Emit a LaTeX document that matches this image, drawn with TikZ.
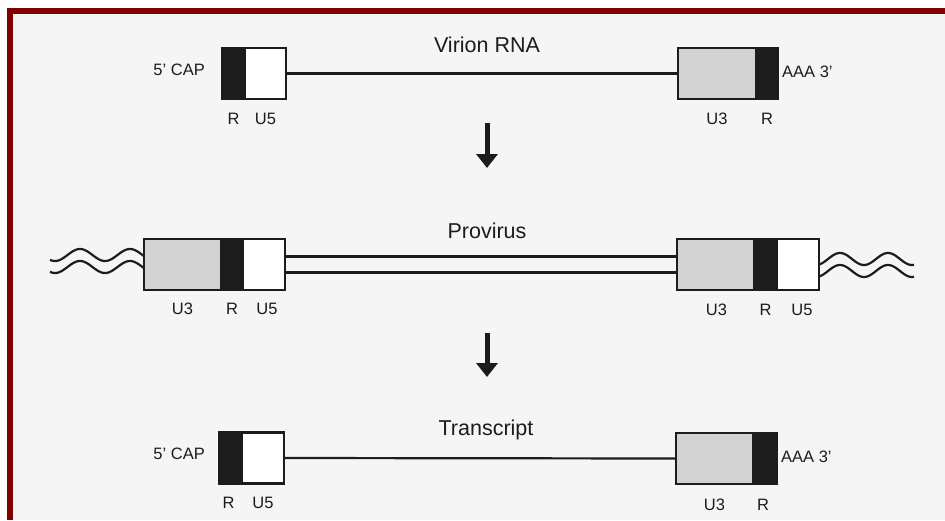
\documentclass[tikz,border=0pt]{standalone}
\usepackage{fontspec}
\setmainfont{Liberation Sans}
\usetikzlibrary{arrows.meta,calc}
\definecolor{frame}{RGB}{128,0,0}
\definecolor{paper}{RGB}{245,245,245}
\definecolor{ltr}{RGB}{210,210,210}
\definecolor{ink}{RGB}{28,28,28}
\begin{document}
\begin{tikzpicture}[x=1pt,y=-1pt,
  seg/.style={draw=ink, line width=2.2pt, inner sep=0pt, outer sep=0pt, minimum height=51pt, anchor=west},
  grayseg/.style={seg, fill=ltr},
  blackseg/.style={seg, fill=ink},
  whiteseg/.style={seg, fill=white},
  lbl/.style={font=\fontsize{16.5}{18}\selectfont, inner sep=0pt, text=ink},
  ttl/.style={font=\fontsize{21.5}{24}\selectfont, inner sep=0pt, anchor=base, text=ink},
  strand/.style={draw=ink, line width=2.2pt},
  bigarrow/.style={draw=ink, line width=5pt, -{Triangle[width=21pt,length=14pt]}}
]
\useasboundingbox (0,0) rectangle (945,520);
\fill[white] (0,0) rectangle (945,520);
\fill[paper] (7,8) rectangle (945,520);
\fill[frame] (7,8) rectangle (945,14);
\fill[frame] (7,8) rectangle (13,520);

% ---------- Row 1: Virion RNA ----------
\node[ttl] (t1) at (487,52) {Virion RNA};
\node[blackseg, minimum width=23pt] (r1a) at (222,73.5) {};
\node[whiteseg, minimum width=41pt] (u5a) at (r1a.east) {};
\node[grayseg, minimum width=78pt] (u3b) at (678,73.5) {};
\node[blackseg, minimum width=22pt] (r1b) at (u3b.east) {};
\draw[strand] (u5a.east) -- (u3b.west);
\node[lbl, anchor=east] (cap1) at (205,70) {5' CAP};
\node[lbl, anchor=west] (aaa1) at (782,72) {AAA 3'};
\node[lbl] (l1) at ($(r1a.south)+(0,19.5)$) {R};
\node[lbl] (l2) at ($(u5a.south)+(0,19.5)$) {U5};
\node[lbl] (l3) at ($(u3b.south)+(0,19.5)$) {U3};
\node[lbl] (l4) at ($(r1b.south)+(0,19.5)$) {R};

\coordinate (a1s) at (487,123);
\coordinate (a1e) at (487,168);
\draw[bigarrow] (a1s) -- (a1e);

% ---------- Row 2: Provirus ----------
\node[ttl] (t2) at (487,238) {Provirus};
\node[grayseg, minimum width=77pt] (u3c) at (144,264.5) {};
\node[blackseg, minimum width=22pt] (r2c) at (u3c.east) {};
\node[whiteseg, minimum width=42pt] (u5c) at (r2c.east) {};
\node[grayseg, minimum width=77pt] (u3d) at (677,264.5) {};
\node[blackseg, minimum width=23pt] (r2d) at (u3d.east) {};
\node[whiteseg, minimum width=42pt] (u5d) at (r2d.east) {};
\draw[strand] ([yshift=8pt]u5c.east) -- ([yshift=8pt]u3d.west);
\draw[strand] ([yshift=-8pt]u5c.east) -- ([yshift=-8pt]u3d.west);
\draw[strand] plot[domain=50:144, samples=90, smooth] (\x, {255 - 6*cos(7.2*(\x-130))});
\draw[strand] plot[domain=50:144, samples=90, smooth] (\x, {267 - 6*cos(7.2*(\x-130))});
\draw[strand] plot[domain=819:914, samples=90, smooth] (\x, {259 - 6*cos(7.5*(\x-840))});
\draw[strand] plot[domain=819:914, samples=90, smooth] (\x, {271 - 6*cos(7.5*(\x-840))});
\node[lbl] (l5) at ($(u3c.south)+(0,19)$) {U3};
\node[lbl] (l6) at ($(r2c.south)+(0,19)$) {R};
\node[lbl] (l7) at ($(u5c.south)+(3,19)$) {U5};
\node[lbl] (l8) at ($(u3d.south)+(1,19.5)$) {U3};
\node[lbl] (l9) at ($(r2d.south)+(0,19.5)$) {R};
\node[lbl] (l10) at ($(u5d.south)+(4,19.5)$) {U5};

\coordinate (a2s) at (487,333);
\coordinate (a2e) at (487,377);
\draw[bigarrow] (a2s) -- (a2e);

% ---------- Row 3: Transcript ----------
\node[ttl] (t3) at (486,435) {Transcript};
\node[blackseg, minimum width=23pt] (r3a) at (219,458) {};
\node[whiteseg, minimum width=42pt] (u5e) at (r3a.east) {};
\node[grayseg, minimum width=77pt] (u3f) at (676,458.5) {};
\node[blackseg, minimum width=24pt] (r3f) at (u3f.east) {};
\draw[strand] (u5e.east) -- (u3f.west);
\node[lbl, anchor=east] (cap3) at (205,453.5) {5' CAP};
\node[lbl, anchor=west] (aaa3) at (781,456.5) {AAA 3'};
\node[lbl] (l11) at ($(r3a.south)+(-2,19.5)$) {R};
\node[lbl] (l12) at ($(u5e.south)+(0,19.5)$) {U5};
\node[lbl] (l13) at ($(u3f.south)+(0,20.5)$) {U3};
\node[lbl] (l14) at ($(r3f.south)+(-2,20.5)$) {R};
\end{tikzpicture}
\end{document}
